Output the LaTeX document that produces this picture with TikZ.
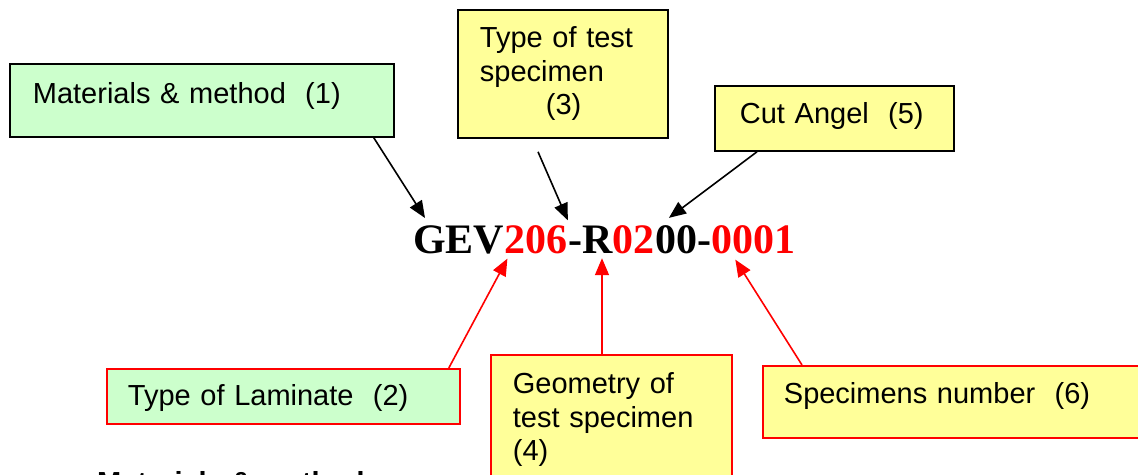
\documentclass[tikz,border=0pt]{standalone}
\usepackage{fontspec}
\setmainfont{Liberation Sans}
\newfontfamily\codefont{Liberation Serif}
\usepackage{xcolor}
\usepackage{tikz}
\usetikzlibrary{arrows.meta,positioning}
\definecolor{boxgreen}{HTML}{CCFFCC}
\definecolor{boxyellow}{HTML}{FFFF99}
\definecolor{codered}{HTML}{FF0000}
\tikzstyle{box} = [rectangle, draw, line width=1.8pt, anchor=north west,
    inner ysep=0pt, align=left, font=\fontsize{29}{33.5}\selectfont]
\tikzstyle{greenbox} = [box, fill=boxgreen]
\tikzstyle{yellowbox} = [box, fill=boxyellow]
\tikzstyle{code} = [inner sep=0pt, font=\codefont\bfseries\fontsize{42}{48}\selectfont]
\tikzstyle{line} = [draw, line width=1.6pt, -{Triangle[length=17pt,width=14pt]}]
\tikzstyle{redline} = [line, codered]

\begin{document}
\begin{tikzpicture}[x=1pt,y=-1pt]
            \useasboundingbox (0,0) rectangle (1138,474);

            % Upper boxes
            \node [greenbox, text width=338pt, inner xsep=23pt, text height=40pt, text depth=33pt]
                (mat) at (9,63) {\mbox{Materials \& method\ \ (1)}};
            \node [yellowbox, text width=166pt, inner xsep=22pt, minimum height=128pt]
                (type) at (457,9) {Type of test\\specimen\\\hspace*{66pt}(3)};
            \node [yellowbox, text width=189pt, inner xsep=25pt, text height=38pt, text depth=27pt]
                (cut) at (714,85) {\mbox{Cut Angel\ \ (5)}};

            % Lower boxes
            \node [greenbox, draw=codered, text width=311pt, inner xsep=21pt, text height=37pt, text depth=18pt]
                (lam) at (106,368) {\mbox{Type of Laminate\ \ (2)}};
            \node [yellowbox, draw=codered, text width=197pt, inner xsep=22pt, minimum height=130pt]
                (geo) at (490,354) {Geometry of\\test specimen\\(4)};
            \node [yellowbox, draw=codered, text width=400pt, inner xsep=21pt, text height=38pt, text depth=34pt]
                (num) at (762,365) {\mbox{Specimens number\ \ (6)}};

            % Specimen code
            \node [code, anchor=base west] (gev) at (413,253) {GEV};
            \node [code, text=codered, base right=0pt of gev] (c206) {206};
            \node [code, base right=0pt of c206] (cR) {-R};
            \node [code, text=codered, base right=0pt of cR] (c02) {02};
            \node [code, base right=0pt of c02] (c00) {00-};
            \node [code, text=codered, base right=0pt of c00] (c0001) {0001};
            \coordinate (geotop) at ([xshift=112pt]geo.north west);

            % Connect everything
            \path [line] ([xshift=-21pt]mat.south east) -- ([xshift=12pt,yshift=7pt]gev.north west);
            \path [line] ([xshift=81pt,yshift=-13pt]type.south west) -- ([yshift=5pt]cR.north west);
            \path [line] ([xshift=43pt]cut.south west) -- ([xshift=14pt,yshift=7pt]c00.north west);
            \path [redline] ([xshift=-12pt]lam.north east) -- ([xshift=3pt,yshift=-5pt]c206.south west);
            \path [redline] (geotop) -- ([yshift=-5pt]geotop |- cR.south);
            \path [redline] ([xshift=40pt]num.north west) -- ([xshift=24pt,yshift=-6pt]c0001.south west);

            % Heading cut off below
            \node [anchor=base west, inner sep=0pt, font=\bfseries\fontsize{29}{33.5}\selectfont]
                (tail) at (97,492) {Materials \& method};
        \end{tikzpicture}
\end{document}
